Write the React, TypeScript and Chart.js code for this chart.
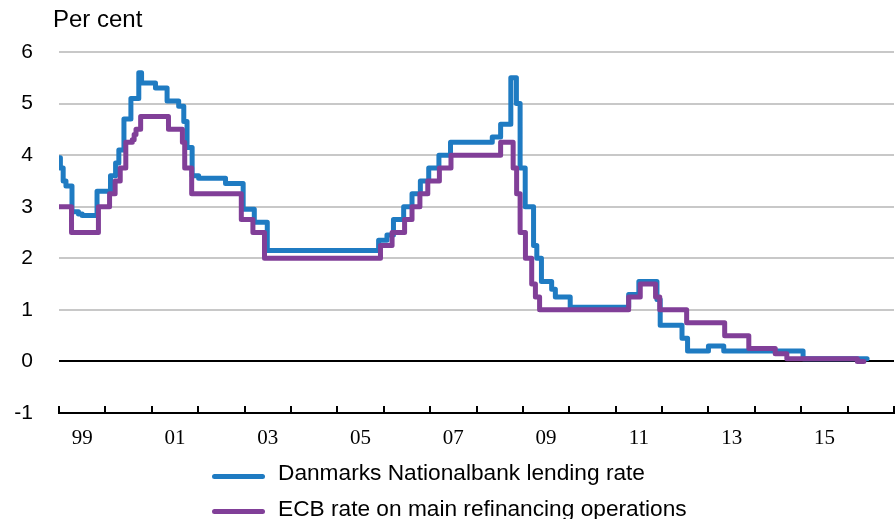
import { useEffect, useRef } from 'react';
import { Chart, registerables } from 'chart.js';

Chart.register(...registerables);

// Danmarks Nationalbank lending rate: dates of change (decimal years) and new levels
const dnDates = [
  1999.0, 1999.03, 1999.09, 1999.15, 1999.28, 1999.42, 1999.5, 1999.82,
  2000.11, 2000.22, 2000.29, 2000.4, 2000.55, 2000.72, 2000.78,
  2001.08, 2001.33, 2001.58, 2001.69, 2001.76, 2001.87,
  2002.01, 2002.59, 2002.97, 2003.21, 2003.49,
  2005.89, 2006.07, 2006.21, 2006.43, 2006.61, 2006.79, 2006.97,
  2007.19, 2007.44, 2008.34, 2008.52, 2008.74, 2008.86, 2008.94,
  2009.05, 2009.23, 2009.3, 2009.4, 2009.62, 2009.7, 2010.02,
  2011.28, 2011.5, 2011.89, 2011.96, 2012.43, 2012.55, 2013.0, 2013.33,
  2015.04, 2016.42,
];
const dnRates = [
  3.95, 3.75, 3.5, 3.4, 2.9, 2.86, 2.83, 3.3,
  3.6, 3.85, 4.1, 4.7, 5.1, 5.6, 5.4,
  5.3, 5.05, 4.95, 4.65, 4.15, 3.6,
  3.55, 3.45, 2.95, 2.7, 2.15,
  2.35, 2.45, 2.75, 3.0, 3.25, 3.5, 3.75,
  4.0, 4.25, 4.35, 4.6, 5.5, 5.0, 3.75,
  3.0, 2.25, 2.0, 1.55, 1.4, 1.25, 1.05,
  1.3, 1.55, 1.2, 0.7, 0.45, 0.2, 0.3, 0.2,
  0.05, 0.05,
];

// ECB rate on main refinancing operations
const ecbDates = [
  1999.0, 1999.27, 1999.85, 2000.09, 2000.21, 2000.32, 2000.44,
  2000.58, 2000.62, 2000.66, 2000.76,
  2001.36, 2001.66, 2001.71, 2001.86, 2002.93, 2003.18, 2003.43,
  2005.93, 2006.18, 2006.45, 2006.61, 2006.78, 2006.95, 2007.2, 2007.45,
  2008.52, 2008.79, 2008.865, 2008.94, 2009.055, 2009.19, 2009.27, 2009.36,
  2011.28, 2011.53, 2011.86, 2011.95, 2012.53, 2013.35, 2013.87,
  2014.44, 2014.69, 2016.21, 2016.35,
];
const ecbRates = [
  3.0, 2.5, 3.0, 3.25, 3.5, 3.75, 4.25,
  4.3, 4.4, 4.5, 4.75,
  4.5, 4.25, 3.75, 3.25, 2.75, 2.5, 2.0,
  2.25, 2.5, 2.75, 3.0, 3.25, 3.5, 3.75, 4.0,
  4.25, 3.75, 3.25, 2.5, 2.0, 1.5, 1.25, 1.0,
  1.25, 1.5, 1.25, 1.0, 0.75, 0.5, 0.25,
  0.15, 0.05, 0.0, 0.0,
];

const yearTicks = [
  1999, 2000, 2001, 2002, 2003, 2004, 2005, 2006, 2007, 2008,
  2009, 2010, 2011, 2012, 2013, 2014, 2015, 2016, 2017,
];
const labelYears = [1999, 2001, 2003, 2005, 2007, 2009, 2011, 2013, 2015];
const xTickLabels = ['99', '01', '03', '05', '07', '09', '11', '13', '15'];

const seriesNames = [
  'Danmarks Nationalbank lending rate',
  'ECB rate on main refinancing operations',
];
const BLUE = '#1F7BC2';
const PURPLE = '#813F98';
const SANS = '"Liberation Sans", Arial, sans-serif';
const SERIF = '"Liberation Serif", "Times New Roman", serif';

const yearTickPlugin = {
  id: 'yearTickMarks',
  afterDraw(chart: any) {
    const { ctx, chartArea, scales } = chart;
    const xs = scales.x;
    ctx.save();
    ctx.strokeStyle = '#000';
    ctx.lineWidth = 2;
    ctx.beginPath();
    yearTicks.forEach((yr) => {
      const px = Math.round(xs.getPixelForValue(yr));
      ctx.moveTo(px, chartArea.bottom);
      ctx.lineTo(px, chartArea.bottom - 7);
    });
    ctx.stroke();
    ctx.restore();
  },
};

export default function App() {
  const ref = useRef<HTMLCanvasElement | null>(null);

  useEffect(() => {
    document.body.style.margin = '0';
    const canvas = ref.current;
    if (!canvas) return;
    const chart = new Chart(canvas, {
      type: 'line',
      data: {
        datasets: [
          {
            label: seriesNames[1],
            data: ecbDates.map((d, i) => ({ x: d, y: ecbRates[i] })),
            borderColor: PURPLE,
            backgroundColor: PURPLE,
            borderWidth: 5,
            pointRadius: 0,
            stepped: true,
            borderCapStyle: 'round',
            borderJoinStyle: 'round',
            order: 0,
          },
          {
            label: seriesNames[0],
            data: dnDates.map((d, i) => ({ x: d, y: dnRates[i] })),
            borderColor: BLUE,
            backgroundColor: BLUE,
            borderWidth: 5,
            pointRadius: 0,
            stepped: true,
            borderCapStyle: 'round',
            borderJoinStyle: 'round',
            order: 1,
          },
        ],
      },
      options: {
        animation: false,
        responsive: false,
        maintainAspectRatio: false,
        layout: { padding: { top: 52, left: 0, right: 2, bottom: 66 } },
        plugins: {
          legend: { display: false },
          tooltip: { enabled: false },
          title: { display: false },
        },
        scales: {
          x: {
            type: 'linear',
            min: 1999,
            max: 2017,
            afterFit: (s: any) => {
              s.height = 40;
            },
            afterBuildTicks: (s: any) => {
              s.ticks = labelYears.map((v) => ({ value: v + 0.5 }));
            },
            grid: { display: false },
            border: { display: true, color: '#000', width: 2 },
            ticks: {
              autoSkip: false,
              maxRotation: 0,
              padding: 5,
              color: '#000',
              font: { family: SERIF, size: 21 },
              callback: (_v: any, i: number) => xTickLabels[i],
            },
          },
          y: {
            min: -1,
            max: 6,
            afterFit: (s: any) => {
              s.width = 59;
            },
            border: { display: false },
            grid: {
              drawTicks: false,
              lineWidth: 2,
              color: (c: any) =>
                c.tick && (c.tick.value === 0 || c.tick.value === -1) ? '#000' : '#C8C8C8',
            },
            ticks: {
              stepSize: 1,
              padding: 26,
              color: '#000',
              font: { family: SANS, size: 21 },
            },
          },
        },
      },
      plugins: [yearTickPlugin],
    } as any);
    return () => chart.destroy();
  }, []);

  const legendRows = [
    { name: seriesNames[0], color: BLUE, textTop: 461, lineTop: 474 },
    { name: seriesNames[1], color: PURPLE, textTop: 497, lineTop: 509 },
  ];

  return (
    <div style={{ position: 'relative', width: 896, height: 519, overflow: 'hidden', background: '#fff' }}>
      <canvas ref={ref} width={896} height={519} style={{ display: 'block', width: 896, height: 519 }} />
      <div
        style={{
          position: 'absolute',
          left: 53,
          top: 7,
          font: `24px ${SANS}`,
          lineHeight: '24px',
          color: '#000',
          whiteSpace: 'nowrap',
        }}
      >
        Per cent
      </div>
      {legendRows.map((r) => (
        <div key={r.name}>
          <div
            style={{
              position: 'absolute',
              left: 212,
              top: r.lineTop,
              width: 53,
              height: 5,
              borderRadius: 3,
              background: r.color,
            }}
          />
          <div
            style={{
              position: 'absolute',
              left: 278,
              top: r.textTop,
              font: `22.7px ${SANS}`,
              lineHeight: '23px',
              color: '#000',
              whiteSpace: 'nowrap',
            }}
          >
            {r.name}
          </div>
        </div>
      ))}
    </div>
  );
}
